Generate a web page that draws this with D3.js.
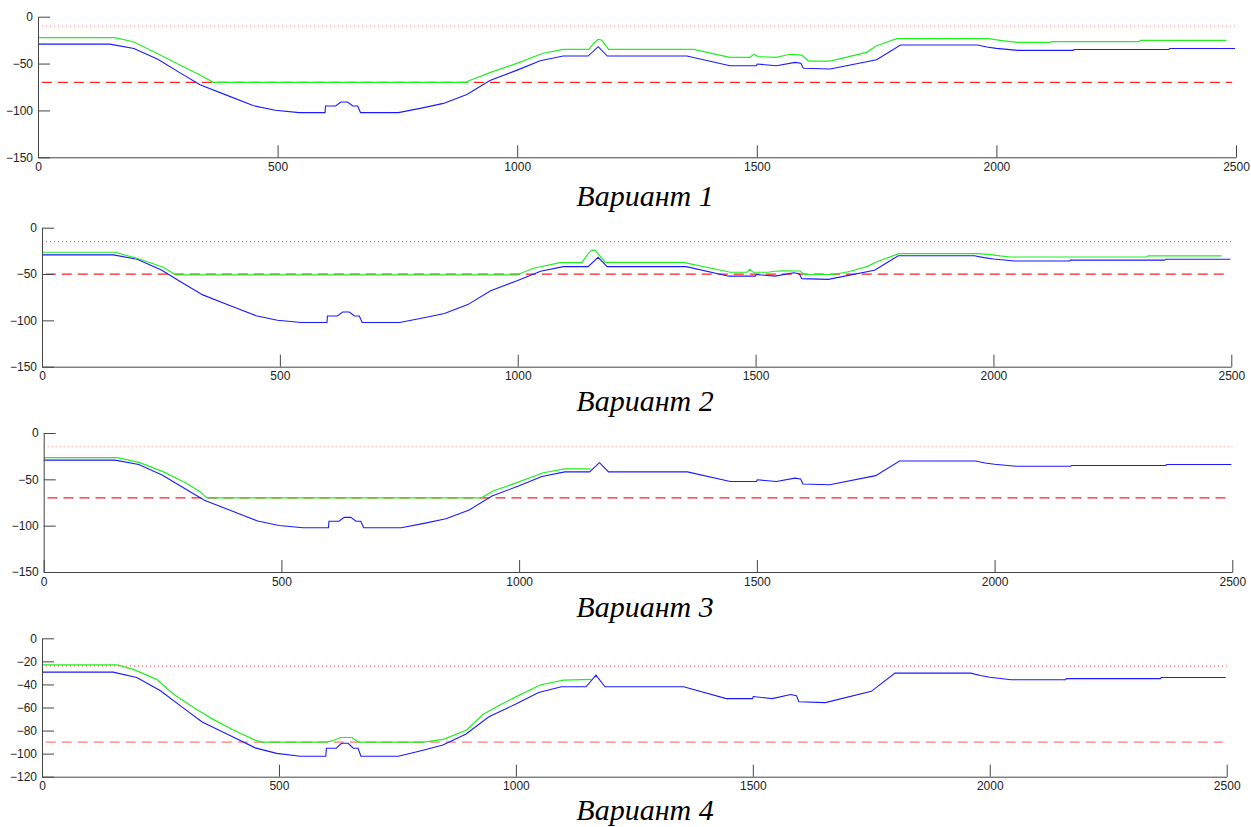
<!DOCTYPE html>
<html>
<head>
<meta charset="utf-8">
<script src="https://cdn.jsdelivr.net/npm/d3@7"></script>
<style>
  body { margin: 0; background: #fff; }
  svg { display: block; }
  .tick text { font-family: "Liberation Sans", Arial, sans-serif; font-size: 12px; fill: #222; }
  .domain, .tick line { stroke: #444; }
</style>
</head>
<body>
<svg id="chart" width="1251" height="827"></svg>
<script>
// ---- data ----
const xTicks = [0, 500, 1000, 1500, 2000, 2500];
const yTicks150 = [0, -50, -100, -150];
const yTicks120 = [0, -20, -40, -60, -80, -100, -120];

// seabed profile (blue), common to all variants: [distance, depth]
const seabed = [
  [0, -29.3], [150, -29.3], [200, -34], [250, -45.5], [300, -61], [338, -72.5], [400, -85],
  [450, -95], [495, -99.8], [545, -102.3], [599, -102.3], [600, -95.3], [621, -95.3],
  [632, -91], [646, -91], [657, -95.3], [667, -95.3], [673, -102.3], [752, -102.3],
  [800, -97.5], [846, -92.5], [895, -83], [943, -68], [1000, -57], [1048, -47],
  [1096, -42], [1148, -42], [1169, -32], [1188, -42], [1354, -42], [1444, -52.3],
  [1499, -52.3], [1501, -50.5], [1541, -52.3], [1580, -48.7], [1592, -49.7], [1597, -55],
  [1653, -55.8], [1750, -46], [1800, -30.2], [1960, -30.2], [1980, -32.3], [2000, -33.8],
  [2045, -35.9], [2160, -35.9], [2162, -35], [2360, -35], [2362, -34], [2498, -34]
];

// dredged route profiles (green) for each variant
const route1 = [
  [0, -22.4], [160, -22.4], [199, -26.7], [248, -39], [296, -51.5], [338, -62.2], [366, -70],
  [895, -70], [898, -68.6], [943, -59.7], [999, -49.8], [1054, -39], [1096, -34.8],
  [1150, -34.8], [1160, -28], [1169, -24.1], [1176, -25], [1191, -34.8], [1368, -34.8],
  [1444, -43.3], [1486, -43.3], [1494, -40.1], [1503, -42.6], [1541, -43.3], [1569, -40.1],
  [1594, -41], [1608, -47.3], [1653, -47.3], [1729, -38], [1750, -31], [1792, -23.4],
  [1983, -23.4], [2008, -25.2], [2042, -27.3], [2112, -27.3], [2115, -26.6], [2298, -26.6],
  [2300, -25.2], [2480, -25.2]
];
const route2 = [
  [0, -26.5], [154, -26.5], [206, -34], [255, -42.7], [276, -49.5], [282, -51],
  [998, -51], [1033, -43.8], [1089, -37.7], [1135, -37.7], [1148, -28], [1156, -24.1],
  [1163, -24.5], [1184, -37.4], [1348, -37.4], [1447, -48.1], [1482, -48.1], [1488, -45],
  [1495, -48.1], [1526, -48.1], [1540, -47], [1560, -46.5], [1594, -46.7], [1601, -50.5],
  [1664, -50.5], [1695, -47.5], [1734, -42], [1755, -36.7], [1801, -28], [1965, -28],
  [1989, -28.8], [2014, -30.5], [2035, -31.6], [2323, -31.6], [2325, -30.5], [2480, -30.5]
];
const route3 = [
  [0, -26.6], [155, -26.6], [202, -32], [251, -41.7], [300, -54.3], [329, -63.3], [343, -70],
  [921, -70], [945, -62.6], [995, -53.6], [1051, -42.9], [1096, -38.8], [1149, -38.8]
];
const route4 = [
  [0, -23.1], [158, -23.1], [193, -26.9], [242, -35.6], [277, -48.3], [319, -59.8],
  [361, -70.3], [404, -79.5], [446, -87.6], [463, -90], [600, -90], [612, -89], [630, -86],
  [654, -86], [667, -90], [805, -90], [847, -87.6], [896, -79.5], [931, -65.9], [966, -57.8],
  [1001, -50.6], [1051, -40.5], [1100, -36.2], [1160, -35.6]
];
const routes = [route1, route2, route3, route4];

// reference levels: dotted (upper) and dashed (design depth)
const upperLevel = [-10, -15, -15, -24];
const designLevel = [-70, -50, -70, -90];
const yMins = [-150, -150, -150, -120];
const titles = ["Вариант 1", "Вариант 2", "Вариант 3", "Вариант 4"];

// ---- layout ----
const panels = [
  { left: 38,   right: 1236,   top: 16.7,  bottom: 157.3, titleY: 205.5, ticks: yTicks150, dot: "#ff8c8c", dash: "#ff2020" },
  { left: 42,   right: 1231.3, top: 227.7, bottom: 366.7, titleY: 410.5, ticks: yTicks150, dot: "#ff4040", dash: "#ff2020" },
  { left: 43.7, right: 1232.3, top: 433,   bottom: 572,   titleY: 617,   ticks: yTicks150, dot: "#ff8080", dash: "#ff2020" },
  { left: 42,   right: 1226.7, top: 638.3, bottom: 776.7, titleY: 820,   ticks: yTicks120, dot: "#ff3030", dash: "#ff7878" }
];

const svg = d3.select("#chart");

panels.forEach((p, i) => {
  const x = d3.scaleLinear().domain([0, 2500]).range([p.left, p.right]);
  const y = d3.scaleLinear().domain([yMins[i], 0]).range([p.bottom, p.top]);
  const g = svg.append("g");

  const line = d3.line().x(d => x(d[0])).y(d => y(d[1]));

  // upper level (dotted)
  g.append("path")
    .attr("d", line([[0, upperLevel[i]], [2500, upperLevel[i]]]))
    .attr("fill", "none").attr("stroke", p.dot).attr("stroke-width", 1)
    .attr("stroke-dasharray", "1,3");

  // design depth (dashed)
  g.append("path")
    .attr("d", line([[8, designLevel[i]], [2492, designLevel[i]]]))
    .attr("fill", "none").attr("stroke", p.dash).attr("stroke-width", 1.2)
    .attr("stroke-dasharray", "10,6");

  // seabed
  g.append("path")
    .attr("d", line(seabed))
    .attr("fill", "none").attr("stroke", "#1a1aff").attr("stroke-width", 1.1);

  // route
  g.append("path")
    .attr("d", line(routes[i]))
    .attr("fill", "none").attr("stroke", "#22ee22").attr("stroke-width", 1.2);

  // axes with inward ticks
  g.append("g")
    .attr("transform", `translate(0,${p.bottom})`)
    .call(d3.axisBottom(x).tickValues(xTicks).tickFormat(d3.format("d"))
      .tickSizeInner(-12).tickSizeOuter(0).tickPadding(5));
  g.append("g")
    .attr("transform", `translate(${p.left},0)`)
    .call(d3.axisLeft(y).tickValues(p.ticks).tickFormat(d3.format("d"))
      .tickSizeInner(-12).tickSizeOuter(0).tickPadding(5));

  // caption
  svg.append("text")
    .attr("x", 645).attr("y", p.titleY)
    .attr("text-anchor", "middle")
    .attr("font-family", "'Liberation Serif', 'Times New Roman', serif")
    .attr("font-style", "italic")
    .attr("font-size", 30)
    .attr("fill", "#000")
    .text(titles[i]);
});
</script>
</body>
</html>
